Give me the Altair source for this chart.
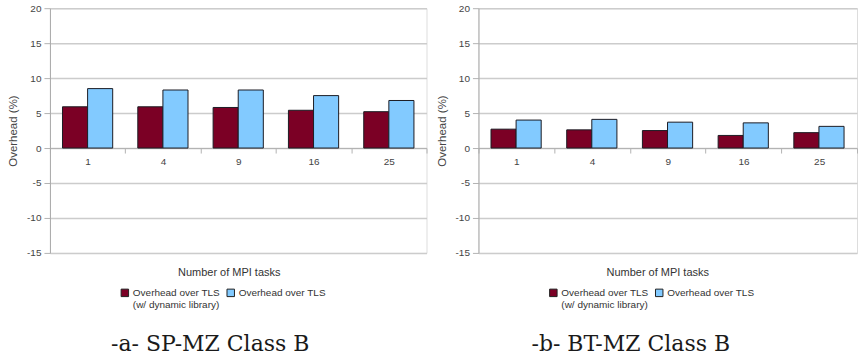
import altair as alt
import pandas as pd

# MPI task counts on the x axis
tasks = ["1", "4", "9", "16", "25"]

# Series names (legend labels)
series = ["Overhead over TLS\n(w/ dynamic library)", "Overhead over TLS"]

# Overhead (%) per benchmark
sp_dynamic = [5.9, 5.9, 5.8, 5.4, 5.2]
sp_tls = [8.5, 8.3, 8.3, 7.5, 6.8]
bt_dynamic = [2.7, 2.6, 2.5, 1.8, 2.2]
bt_tls = [4.0, 4.1, 3.7, 3.6, 3.1]

captions = ["-a- SP-MZ Class B", "-b- BT-MZ Class B"]
y_ticks = [-15, -10, -5, 0, 5, 10, 15, 20]

colors = ["#7b0025", "#82caff"]
SANS = "Liberation Sans"

# every legend label is drawn as two lines so both entries share one layout
LEGEND_LABEL = (
    "[split(datum.label, '\\n')[0], "
    "length(split(datum.label, '\\n')) > 1 ? split(datum.label, '\\n')[1] : ' ']"
)


def frame(dyn, tls):
    rows = []
    for t, d, s in zip(tasks, dyn, tls):
        rows.append({"tasks": t, "series": series[0], "value": d})
        rows.append({"tasks": t, "series": series[1], "value": s})
    return pd.DataFrame(rows)


def panel(df, caption, width, dx):
    return (
        alt.Chart(df)
        .mark_bar(stroke="#1c1c24", strokeWidth=1)
        .encode(
            x=alt.X(
                "tasks:O",
                sort=tasks,
                scale=alt.Scale(paddingInner=0, paddingOuter=0),
                axis=alt.Axis(
                    title="Number of MPI tasks",
                    titleX=179,
                    titleY=125,
                    titleBaseline="middle",
                    titleFont=SANS,
                    titleFontSize=11,
                    titleFontWeight="normal",
                    titleColor="#333333",
                    labelAngle=0,
                    labelFont=SANS,
                    labelFontSize=10,
                    labelColor="#444444",
                    labelPadding=3,
                    tickBand="extent",
                    tickSize=5,
                    tickColor="#b3b3b3",
                    domainColor="#b3b3b3",
                    offset=-105,
                ),
            ),
            xOffset=alt.XOffset(
                "series:N",
                sort=series,
                scale=alt.Scale(paddingInner=0, paddingOuter=0.5),
            ),
            y=alt.Y(
                "value:Q",
                scale=alt.Scale(domain=[-15, 20], nice=False),
                axis=alt.Axis(
                    title="Overhead (%)",
                    values=y_ticks,
                    labelExpr="'' + datum.value",
                    titleFont=SANS,
                    titleFontSize=11.5,
                    titleFontWeight="normal",
                    titleColor="#444444",
                    titlePadding=8,
                    labelFont=SANS,
                    labelFontSize=10,
                    labelColor="#444444",
                    labelPadding=3,
                    tickSize=6,
                    tickColor="#b3b3b3",
                    domainColor="#aaaaaa",
                    gridColor="#cccccc",
                    gridWidth=1.5,
                ),
            ),
            color=alt.Color(
                "series:N",
                sort=series,
                scale=alt.Scale(domain=series, range=colors),
                legend=alt.Legend(
                    title=None,
                    orient="none",
                    legendX=70,
                    legendY=280,
                    direction="horizontal",
                    symbolType="square",
                    symbolSize=56,
                    symbolStrokeColor="#222222",
                    symbolStrokeWidth=1,
                    labelFont=SANS,
                    labelFontSize=10,
                    labelColor="#333333",
                    labelBaseline="middle",
                    labelAlign="left",
                    labelOffset=3,
                    labelExpr=LEGEND_LABEL,
                    columnPadding=4,
                ),
            ),
        )
        .properties(
            width=width,
            height=245,
            title=alt.TitleParams(
                caption,
                orient="bottom",
                font="DejaVu Serif",
                fontSize=22,
                fontWeight="normal",
                color="#1a1a1a",
                anchor="middle",
                dx=dx,
                offset=24,
            ),
        )
    )


left = panel(frame(sp_dynamic, sp_tls), captions[0], 377, -28)
right = panel(frame(bt_dynamic, bt_tls), captions[1], 379, -37)

chart = (
    alt.hconcat(left, right, spacing=8)
    .resolve_scale(color="independent")
    .properties(padding={"left": 7, "top": 2, "right": 0, "bottom": 0})
    .configure_view(stroke=None)
    .configure(background="white")
)

chart.save("out.html", embed_options={"renderer": "svg", "actions": False})
